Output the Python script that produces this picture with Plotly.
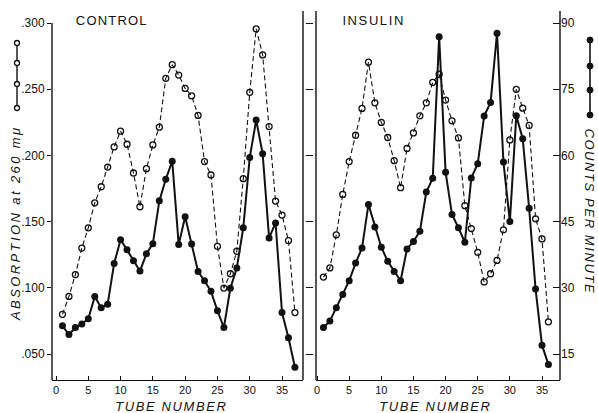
import plotly.graph_objects as go

# ---------------- data ----------------
control_tubes = list(range(1, 38))
control_absorption = [0.080, 0.0935, 0.110, 0.130, 0.1453, 0.1642, 0.1763, 0.1912, 0.2064, 0.2183,
                      0.2084, 0.1867, 0.1612, 0.190, 0.2079, 0.2213, 0.2582, 0.2685, 0.2607, 0.2506,
                      0.245, 0.2302, 0.1953, 0.1852, 0.1313, 0.0998, 0.1106, 0.1276, 0.1824, 0.2476,
                      0.2956, 0.2759, 0.2218, 0.1655, 0.1549, 0.1357, 0.0813]
control_counts = [21.4, 19.4, 21.0, 21.8, 23.0, 28.0, 25.5, 26.3, 35.5, 40.9,
                  38.6, 36.1, 33.8, 37.7, 40.0, 49.7, 54.6, 58.7, 39.8, 46.1,
                  39.9, 33.7, 31.6, 29.2, 24.8, 21.0, 29.9, 34.5, 43.6, 59.5,
                  68.0, 60.4, 41.3, 44.7, 24.4, 18.7, 12.0]

insulin_tubes = list(range(1, 37))
insulin_absorption = [0.1081, 0.115, 0.140, 0.1705, 0.1953, 0.2152, 0.2355, 0.2704, 0.2397, 0.2249,
                      0.2135, 0.196, 0.1756, 0.2052, 0.217, 0.2299, 0.2397, 0.2552, 0.2613, 0.2418,
                      0.2261, 0.2132, 0.1620, 0.1447, 0.1268, 0.1044, 0.1106, 0.1207, 0.1438, 0.2117,
                      0.2499, 0.2357, 0.2226, 0.1521, 0.1369, 0.0743]
insulin_counts = [21.0, 22.5, 25.5, 28.5, 31.6, 35.6, 39.0, 48.9, 43.8, 39.2,
                  36.0, 33.7, 31.6, 38.8, 40.5, 42.8, 51.7, 54.8, 86.9, 56.2,
                  46.6, 43.6, 40.3, 54.9, 58.1, 68.9, 72.0, 87.7, 58.5, 45.0,
                  69.0, 63.8, 48.0, 29.7, 17.0, 12.6]

abs_ticks = [0.050, 0.100, 0.150, 0.200, 0.250, 0.300]
abs_ticktext = [".050", ".100", ".150", ".200", ".250", ".300"]
count_ticks = [15, 30, 45, 60, 75, 90]
tube_ticks = [0, 5, 10, 15, 20, 25, 30, 35]

# ---------------- geometry helpers ----------------
W, H = 598, 413
ML, MR, MT, MB = 52, 38, 11, 33
PW, PH = W - ML - MR, H - MT - MB
ABS_RANGE = [0.03036, 0.30906]
CNT_RANGE = [(ABS_RANGE[0] - 0.05) * 300 + 15, (ABS_RANGE[1] - 0.05) * 300 + 15]


def px(x):
    return (x - ML) / PW


def py(y):
    return (H - MB - y) / PH


FONT = "Liberation Sans, Arial, sans-serif"
BLACK = "#111"

fig = go.Figure()

dash_line = dict(color=BLACK, width=1.1, dash="5px,3px")
solid_line = dict(color=BLACK, width=2)
open_marker = dict(symbol="circle-open", size=6, color=BLACK, line=dict(width=1.3, color=BLACK))
filled_marker = dict(symbol="circle", size=7, color=BLACK)

fig.add_trace(go.Scatter(x=control_tubes, y=control_absorption, mode="lines+markers",
                         line=dash_line, marker=open_marker, xaxis="x", yaxis="y"))
fig.add_trace(go.Scatter(x=control_tubes, y=control_counts, mode="lines+markers",
                         line=solid_line, marker=filled_marker, xaxis="x", yaxis="y4"))
fig.add_trace(go.Scatter(x=insulin_tubes, y=insulin_absorption, mode="lines+markers",
                         line=dash_line, marker=open_marker, xaxis="x2", yaxis="y2"))
fig.add_trace(go.Scatter(x=insulin_tubes, y=insulin_counts, mode="lines+markers",
                         line=solid_line, marker=filled_marker, xaxis="x2", yaxis="y3"))

d1 = [0, px(303)]
d2 = [px(316), 1]

xcommon = dict(tickmode="array", tickvals=tube_ticks, ticks="inside", ticklen=4, tickwidth=1.2,
               tickcolor=BLACK, showline=True, linecolor=BLACK, linewidth=1.4, showgrid=False,
               zeroline=False, tickfont=dict(family=FONT, size=11, color=BLACK))

fig.update_layout(
    width=W, height=H,
    margin=dict(l=ML, r=MR, t=MT, b=MB),
    paper_bgcolor="white", plot_bgcolor="white",
    showlegend=False,
    xaxis=dict(domain=d1, range=[-0.62, 38.25], anchor="y", **xcommon),
    xaxis2=dict(domain=d2, range=[-0.16, 37.8], anchor="y2", **xcommon),
    yaxis=dict(domain=[0, 1], range=ABS_RANGE, anchor="x", tickmode="array", tickvals=abs_ticks,
               ticktext=abs_ticktext, ticks="outside", ticklen=4, tickwidth=1.2, tickcolor=BLACK,
               showline=False, showgrid=False, zeroline=False,
               tickfont=dict(family=FONT, size=12, color=BLACK)),
    yaxis4=dict(range=CNT_RANGE, overlaying="y", anchor="x", side="right", visible=False),
    yaxis2=dict(domain=[0, 1], range=ABS_RANGE, anchor="x2", visible=False),
    yaxis3=dict(range=CNT_RANGE, overlaying="y2", anchor="x2", side="right", tickmode="array",
                tickvals=count_ticks, ticks="inside", ticklen=7, tickwidth=1.2, tickcolor=BLACK,
                showline=False, showgrid=False, zeroline=False,
                tickfont=dict(family=FONT, size=12, color=BLACK)),
    yaxis5=dict(range=ABS_RANGE, overlaying="y", anchor="free", position=px(312.5), side="left",
                tickmode="array", tickvals=abs_ticks, ticks="outside", ticklen=7, tickwidth=1.2,
                tickcolor=BLACK, showticklabels=False, showline=False, showgrid=False, zeroline=False),
)
# dummy trace so yaxis5 renders
fig.add_trace(go.Scatter(x=[None], y=[None], xaxis="x", yaxis="y5", showlegend=False))

shapes = []
# frame lines
shapes.append(dict(type="line", xref="paper", yref="paper", x0=px(52), x1=px(52), y0=py(380), y1=py(23),
                   line=dict(color=BLACK, width=1.4)))
for xx in (303, 316, 560):
    shapes.append(dict(type="line", xref="paper", yref="paper", x0=px(xx), x1=px(xx), y0=py(380), y1=py(11),
                       line=dict(color=BLACK, width=1.4)))
# legend keys
shapes.append(dict(type="line", xref="paper", yref="paper", x0=px(17), x1=px(17), y0=py(108), y1=py(43),
                   line=dict(color=BLACK, width=1.4)))
for yy in (43, 63, 84, 108):
    shapes.append(dict(type="circle", xref="paper", yref="paper", x0=px(14.5), x1=px(19.5),
                       y0=py(yy + 2.5), y1=py(yy - 2.5), fillcolor="white",
                       line=dict(color=BLACK, width=1.3)))
shapes.append(dict(type="line", xref="paper", yref="paper", x0=px(590), x1=px(590), y0=py(115), y1=py(40),
                   line=dict(color=BLACK, width=1.6)))
for yy in (40, 66, 90, 115):
    shapes.append(dict(type="circle", xref="paper", yref="paper", x0=px(587), x1=px(593),
                       y0=py(yy + 3), y1=py(yy - 3), fillcolor=BLACK,
                       line=dict(color=BLACK, width=1)))
fig.update_layout(shapes=shapes)

ann = []
ann.append(dict(text="CONTROL", x=px(112), y=py(20), xref="paper", yref="paper", showarrow=False,
                font=dict(family=FONT, size=13, color=BLACK), xanchor="center", yanchor="middle"))
ann.append(dict(text="INSULIN", x=px(373), y=py(20), xref="paper", yref="paper", showarrow=False,
                font=dict(family=FONT, size=13, color=BLACK), xanchor="center", yanchor="middle"))
ann.append(dict(text="<i>TUBE NUMBER</i>", x=px(171), y=py(406), xref="paper", yref="paper", showarrow=False,
                font=dict(family=FONT, size=13, color=BLACK), xanchor="center", yanchor="middle"))
ann.append(dict(text="<i>TUBE NUMBER</i>", x=px(435), y=py(406), xref="paper", yref="paper", showarrow=False,
                font=dict(family=FONT, size=13, color=BLACK), xanchor="center", yanchor="middle"))
ann.append(dict(text="<i>ABSORPTION at 260 mμ</i>", x=px(15), y=py(223), xref="paper", yref="paper",
                showarrow=False, textangle=-90, font=dict(family=FONT, size=13, color=BLACK),
                xanchor="center", yanchor="middle"))
ann.append(dict(text="<i>COUNTS PER MINUTE</i>", x=px(590), y=py(211), xref="paper", yref="paper",
                showarrow=False, textangle=90, font=dict(family=FONT, size=13, color=BLACK),
                xanchor="center", yanchor="middle"))
fig.update_layout(annotations=ann)

post = """
document.body.style.margin = '0px';
var sp = ['1.2px', '1.6px', '1.6px', '1.6px', '2.4px', '1.6px'];
document.querySelectorAll('.annotation').forEach(function(g){
  var i = parseInt(g.getAttribute('data-index'));
  if (!isNaN(i) && sp[i]) {
    g.querySelectorAll('text').forEach(function(t){ t.style.letterSpacing = sp[i]; });
  }
});
"""
fig.write_html("out.html", post_script=post, config={"displayModeBar": False})
